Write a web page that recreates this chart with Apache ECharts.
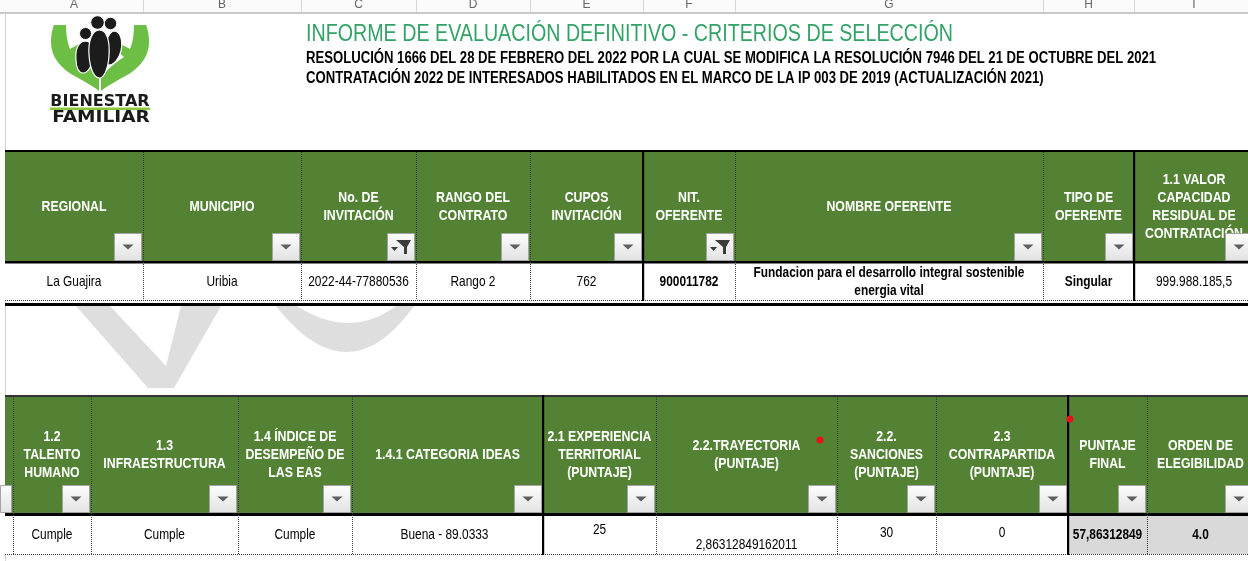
<!DOCTYPE html>
<html><head><meta charset="utf-8">
<script src="https://cdn.jsdelivr.net/npm/echarts@6/dist/echarts.min.js"></script>
<style>html,body{margin:0;padding:0;background:#fff;overflow:hidden}#c{width:1248px;height:561px}</style>
</head><body><div id="c"></div>
<script>
// ================= DATA =================
const columnLetters = ['A','B','C','D','E','F','G','H','I'];
const titleText = 'INFORME DE EVALUACIÓN DEFINITIVO - CRITERIOS DE SELECCIÓN';
const subtitleLines = [
  'RESOLUCIÓN 1666 DEL 28 DE FEBRERO DEL 2022 POR LA CUAL SE MODIFICA LA RESOLUCIÓN 7946 DEL 21 DE OCTUBRE DEL 2021',
  'CONTRATACIÓN 2022 DE INTERESADOS HABILITADOS EN EL MARCO DE LA IP 003 DE 2019 (ACTUALIZACIÓN 2021)'
];
const logoWords = ['BIENESTAR','FAMILIAR'];
const table1Headers = ['REGIONAL','MUNICIPIO','No. DE\nINVITACIÓN','RANGO DEL\nCONTRATO','CUPOS\nINVITACIÓN','NIT.\nOFERENTE','NOMBRE OFERENTE','TIPO DE\nOFERENTE','1.1 VALOR\nCAPACIDAD\nRESIDUAL DE\nCONTRATACIÓN'];
const table1Values = ['La Guajira','Uribia','2022-44-77880536','Rango 2','762','900011782','Fundacion para el desarrollo integral sostenible\nenergia vital','Singular','999.988.185,5'];
const table2Headers = ['','1.2\nTALENTO\nHUMANO','1.3\nINFRAESTRUCTURA','1.4 ÍNDICE DE\nDESEMPEÑO DE\nLAS EAS','1.4.1 CATEGORIA IDEAS','2.1 EXPERIENCIA\nTERRITORIAL\n(PUNTAJE)','2.2.TRAYECTORIA\n(PUNTAJE)','2.2.\nSANCIONES\n(PUNTAJE)','2.3\nCONTRAPARTIDA\n(PUNTAJE)','PUNTAJE\nFINAL','ORDEN DE\nELEGIBILIDAD'];
const table2Values = ['','Cumple','Cumple','Cumple','Buena - 89.0333','25','2,86312849162011','30','0','57,86312849','4.0'];

// ================= LAYOUT / STYLE =================
const GREEN = '#548235';
const TITLE_GREEN = '#33a267';
const layout = [
  { edges:[5,143,301,416,530,643,735,1043,1134,1254], headTop:152, headBottom:261, rowTop:263, rowBottom:300,
    topLine:[150,2,'#000'], midLine:[261,2.5], endLine:[303,3], bottom:300,
    thick:[5,8], buttons:['d','d','f','d','d','f','d','d','d'],
    bold:[0,0,0,0,0,1,1,1,0], gray:[], dx:[0,0,0,0,0,0,0,0,0], dy:[0,0,0,0,0,0,0,0,0] },
  { edges:[5,13,91,238,352,543,656,837,936,1068,1147,1254], headTop:397, headBottom:513, rowTop:516, rowBottom:554,
    topLine:[395,2,'#333'], midLine:[513,3], endLine:null, bottom:554,
    thick:[5,9], buttons:['d','d','d','d','d','d','d','d','d','d','d'],
    bold:[0,0,0,0,0,0,0,0,0,1,1], gray:[9,10], dx:[0,0,0,0,-3,0,0,0,0,0,0], dy:[0,0,0,0,0,-5,10,-2,-2,0,0] }
];
const headerData = [table1Headers, table2Headers];
const valueData = [table1Values, table2Values];

function fontAvailable(name){
  const c=document.createElement('canvas').getContext('2d');
  const s='REGIONAL INFRAESTRUCTURA 0123 ii';
  c.font='20px monospace'; const a=c.measureText(s).width;
  c.font='20px "'+name+'", monospace'; const b=c.measureText(s).width;
  c.font='20px serif'; const a2=c.measureText(s).width;
  c.font='20px "'+name+'", serif'; const b2=c.measureText(s).width;
  return a!==b && a2!==b2;
}
const HAS_NARROW = fontAvailable('Liberation Sans Narrow');
const FONT = HAS_NARROW ? '"Liberation Sans Narrow", "Arial Narrow", sans-serif' : '"Liberation Sans", Arial, sans-serif';
const SX = HAS_NARROW ? 1 : 0.82;

function txt(x, y, text, o){
  o = o || {};
  return { type:'text', x:x, y:y, scaleX:(o.sx||1)*(o.noScale?1:SX), silent:true,
    style:{ text:text, x:0, y:0, fill:o.fill||'#000', fontFamily:o.family||FONT, fontSize:o.size||14,
      fontWeight:o.weight||'normal', align:o.align||'center', verticalAlign:o.valign||'middle', lineHeight:o.lh||18 } };
}

function button(x, y, w, h, kind, clipLeft){
  const g = [];
  const bx = Math.max(x, clipLeft);
  g.push({ type:'rect', shape:{x:bx+0.5, y:y+0.5, width:x+w-bx-1, height:h-1},
    style:{ fill:{type:'linear',x:0,y:0,x2:0,y2:1,colorStops:[{offset:0,color:'#fdfdfd'},{offset:1,color:'#e2e2e2'}]}, stroke:'#a3a3a3', lineWidth:1 } });
  const cx = x + w/2, cy = y + h/2;
  if (bx > x) return g;
  if (kind === 'f') {
    g.push({ type:'polygon', shape:{points:[[cx-5,cy-7],[cx+10,cy-7],[cx+6,cy],[cx+6,cy+7],[cx+3,cy+7],[cx+3,cy]]}, style:{fill:'#3c3c3c'} });
    g.push({ type:'polygon', shape:{points:[[cx-10,cy],[cx-3,cy],[cx-6.5,cy+4]]}, style:{fill:'#3c3c3c'} });
  } else {
    g.push({ type:'polygon', shape:{points:[[cx-5.5,cy-2.5],[cx+5.5,cy-2.5],[cx,cy+2.5]]}, style:{fill:'#5f5f5f'} });
  }
  return g;
}

function renderCell(params, api){
  const t = api.value(0), r = api.value(1), c = api.value(2);
  const L = layout[t];
  const yv0 = r===0 ? L.headTop : L.rowTop, yv1 = r===0 ? L.headBottom : L.rowBottom;
  const p0 = api.coord([L.edges[c], yv0]), p1 = api.coord([L.edges[c+1], yv1]);
  const w = p1[0]-p0[0], h = p1[1]-p0[1];
  const children = [];
  const fill = r===0 ? GREEN : (L.gray.indexOf(c)>=0 ? '#d9d9d9' : '#ffffff');
  children.push({ type:'rect', shape:{x:p0[0], y:p0[1], width:w, height:h}, style:{fill:fill} });
  const cx = p0[0] + w/2, cy = p0[1] + h/2;
  if (r===0) {
    const s = headerData[t][c];
    if (s) children.push(txt(cx, cy, s, {fill:'#ffffff', weight:'bold', size:15, lh:18}));
    const bs = 28;
    children.push.apply(children, button(p1[0]-bs-1, p1[1]-bs, bs, bs, L.buttons[c], 0));
  } else {
    const s = valueData[t][c];
    if (s) children.push(txt(cx + L.dx[c], cy + L.dy[c], s, {weight:L.bold[c]?'bold':'normal', size:14.5, lh:18}));
  }
  return { type:'group', children:children };
}

function renderBorders(params, api){
  const t = api.value(0);
  const L = layout[t];
  const xl = api.coord([L.edges[0], 0])[0], xr = api.coord([L.edges[L.edges.length-1], 0])[0];
  const ch = [];
  const yTop = api.coord([0, L.topLine[0]])[1];
  ch.push({ type:'rect', shape:{x:xl, y:yTop, width:xr-xl, height:L.topLine[1]}, style:{fill:L.topLine[2]} });
  const yMid = api.coord([0, L.midLine[0]])[1];
  ch.push({ type:'rect', shape:{x:xl, y:yMid, width:xr-xl, height:L.midLine[1]}, style:{fill:'#000'} });
  const yB = api.coord([0, L.bottom])[1];
  ch.push({ type:'line', shape:{x1:xl, y1:yB+0.5, x2:xr, y2:yB+0.5}, style:{stroke:'#333', lineWidth:1, lineDash:[1,1]} });
  if (L.endLine) {
    const yE = api.coord([0, L.endLine[0]])[1];
    ch.push({ type:'rect', shape:{x:xl, y:yE, width:xr-xl, height:L.endLine[1]}, style:{fill:'#000'} });
  }
  const yH0 = api.coord([0, L.headTop])[1];
  for (let i=1; i<L.edges.length-1; i++) {
    const x = api.coord([L.edges[i], 0])[0];
    if (L.thick.indexOf(i) >= 0) {
      ch.push({ type:'rect', shape:{x:x-1, y:yTop, width:2.2, height:yB+1-yTop}, style:{fill:'#000'} });
    } else {
      ch.push({ type:'line', shape:{x1:x+0.5, y1:yH0, x2:x+0.5, y2:yB}, style:{stroke:'#3a3a3a', lineWidth:1, lineDash:[1,1]} });
    }
  }
  return { type:'group', children:ch };
}

// logo drawn as custom series (decorative shapes)
const handPath = 'M54 25 L66 25 C66 34 67 42 70 49 L83 42 L88 46 L76 57 C85 63 94 70 99 78 L99 91 C93 86 82 80 71 74 C59 66 51 56 51 42 C51 35 52 30 54 25 Z';
function renderLogo(params, api){
  const o = api.coord([0,0]);
  const ch = [];
  ch.push({ type:'path', x:o[0], y:o[1], shape:{pathData:handPath}, style:{fill:'#6dbe45'} });
  ch.push({ type:'path', x:o[0]+200, y:o[1], scaleX:-1, shape:{pathData:handPath}, style:{fill:'#6dbe45'} });
  ch.push({ type:'path', x:o[0], y:o[1], shape:{pathData:'M76 60 C75 50 78 42 85 41 C92 41 94 49 93 58 C92 66 88 73 83 73 C79 73 76 68 76 60 Z'}, style:{fill:'#1c1c1c',stroke:'#fff',lineWidth:1.2} });
  ch.push({ type:'path', x:o[0], y:o[1], shape:{pathData:'M104 57 C104 46 108 32 114 31 C121 31 123 42 121 51 C119 60 113 65 109 65 C105 65 104 61 104 57 Z'}, style:{fill:'#1c1c1c',stroke:'#fff',lineWidth:1.2} });
  ch.push({ type:'path', x:o[0], y:o[1], shape:{pathData:'M89 55 C88 41 92 30 99.5 30 C107 30 110 41 109 56 C108 69 104 78 99.5 78 C94 78 90 69 89 55 Z'}, style:{fill:'#1c1c1c',stroke:'#fff',lineWidth:1.2} });
  ch.push({ type:'circle', shape:{cx:o[0]+85.5,cy:o[1]+33.5,r:6}, style:{fill:'#1c1c1c',stroke:'#fff',lineWidth:1} });
  ch.push({ type:'circle', shape:{cx:o[0]+110.5,cy:o[1]+23.5,r:6.2}, style:{fill:'#1c1c1c',stroke:'#fff',lineWidth:1} });
  ch.push({ type:'circle', shape:{cx:o[0]+97.5,cy:o[1]+22.5,r:6.8}, style:{fill:'#1c1c1c',stroke:'#fff',lineWidth:1} });
  ch.push(txt(o[0]+100, o[1]+101.5, logoWords[0], {family:'"DejaVu Sans", sans-serif', weight:'bold', size:16, fill:'#1a1a1a', noScale:true}));
  ch.push({ type:'rect', shape:{x:o[0]+50,y:o[1]+107.5,width:100,height:2.5}, style:{fill:'#8cc63f'} });
  ch.push(txt(o[0]+101, o[1]+117.5, logoWords[1], {family:'"DejaVu Sans", sans-serif', weight:'bold', size:16, fill:'#1a1a1a', noScale:true, sx:1.16}));
  return { type:'group', children:ch };
}

// watermark pieces visible between the two tables (decorative)
function quad(p0, p1, p2, n){
  const pts = [];
  for (let i=0;i<=n;i++){ const t=i/n, a=(1-t)*(1-t), b=2*(1-t)*t, c=t*t;
    pts.push([a*p0[0]+b*p1[0]+c*p2[0], a*p0[1]+b*p1[1]+c*p2[1]]); }
  return pts;
}
const wmV = [[76,306],[110,306],[166,366],[181,306],[221,306],[174,388],[148,388]];
const wmBowl = quad([276,306],[348,398],[414,306],20).concat(quad([396,306],[350,340],[297,306],20));

// cell items: [table, row, column]
const cellItems = [];
headerData.forEach((hs, t) => hs.forEach((h, c) => { cellItems.push([t,0,c]); cellItems.push([t,1,c]); }));

// ================= DECORATION (titles, sheet frame) =================
const graphics = [];
graphics.push({ type:'rect', shape:{x:0,y:0,width:1248,height:13}, style:{fill:'#fbfbfb'}, z:1 });
graphics.push({ type:'rect', shape:{x:0,y:12,width:1248,height:2}, style:{fill:'#c9c9c9'}, z:1 });
graphics.push({ type:'line', shape:{x1:5.5,y1:13,x2:5.5,y2:561}, style:{stroke:'#d2d2d2',lineWidth:1}, z:1 });
layout[0].edges.slice(1,-1).forEach(e => graphics.push({ type:'line', shape:{x1:e+0.5,y1:0,x2:e+0.5,y2:12}, style:{stroke:'#d6d6d6',lineWidth:1}, z:1 }));
columnLetters.forEach((l, i) => {
  const e = layout[0].edges;
  graphics.push(Object.assign(txt((e[i]+e[i+1])/2, 14, l, {family:'"Liberation Sans", Arial, sans-serif', size:12, fill:'#666', valign:'bottom', noScale:true}), {z:2}));
});
graphics.push({ type:'polygon', shape:{points:wmV}, style:{fill:'#dedede'}, z:1 });
graphics.push({ type:'polygon', shape:{points:wmBowl}, style:{fill:'#dedede'}, z:1 });
graphics.push(Object.assign(txt(306, 34, titleText, {align:'left', size:24, fill:TITLE_GREEN}), {z:4}));
graphics.push(Object.assign(txt(306, 58.5, subtitleLines[0], {align:'left', size:16, weight:'bold', fill:'#000'}), {z:4}));
graphics.push(Object.assign(txt(306, 78.5, subtitleLines[1], {align:'left', size:16, weight:'bold', fill:'#000'}), {z:4}));
graphics.push({ type:'circle', shape:{cx:820, cy:440, r:3.5}, style:{fill:'#e5121b'}, z:50 });
graphics.push({ type:'circle', shape:{cx:1070, cy:419, r:3.5}, style:{fill:'#e5121b'}, z:50 });

const chart = echarts.init(document.getElementById('c'), null, {renderer:'canvas'});
chart.setOption({
  animation:false,
  backgroundColor:'#ffffff',
  grid:{left:0, right:0, top:0, bottom:0},
  xAxis:{type:'value', min:0, max:1248, show:false},
  yAxis:{type:'value', min:0, max:561, inverse:true, show:false},
  graphic: graphics,
  series:[
    { type:'custom', name:'logo', data:[[0]], renderItem:renderLogo, clip:false, z:4, silent:true },
    { type:'custom', name:'cells', data:cellItems, renderItem:renderCell, clip:false, z:5, silent:true },
    { type:'custom', name:'borders', data:[[0],[1]], renderItem:renderBorders, clip:false, z:6, silent:true }
  ]
});
</script>
</body></html>
